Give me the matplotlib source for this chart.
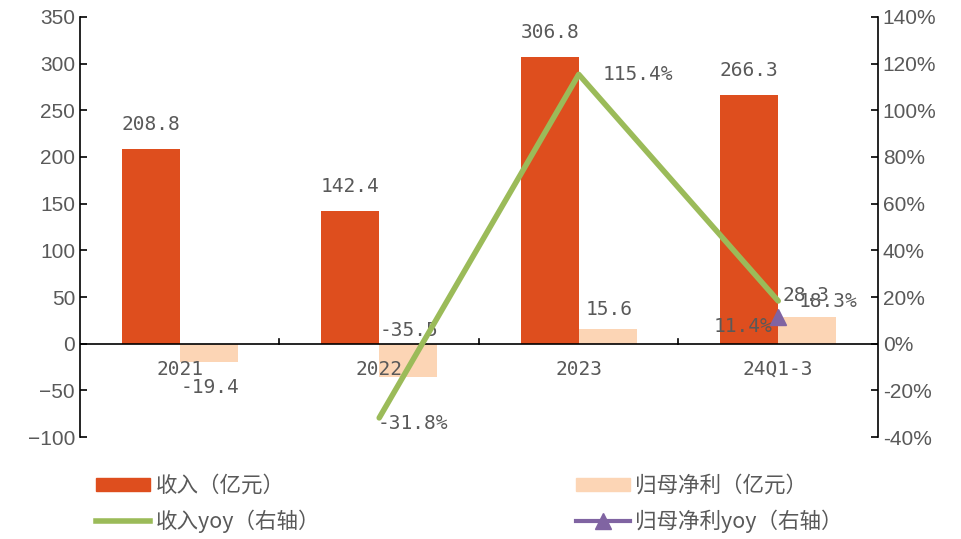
import numpy as np
import matplotlib as mpl
mpl.use('Agg')
import matplotlib.pyplot as plt
from matplotlib.lines import Line2D
from matplotlib.patches import Patch

categories = ['2021', '2022', '2023', '24Q1-3']
revenue = [208.8, 142.4, 306.8, 266.3]
net_profit = [-19.4, -35.5, 15.6, 28.3]
revenue_yoy = [None, -31.8, 115.4, 18.3]
profit_yoy = [None, None, None, 11.4]

c_rev = '#DE4E1E'
c_np = '#FCD5B5'
c_green = '#9BBB59'
c_purple = '#8064A2'
c_text = '#595959'

cjk = ['Noto Sans CJK SC', 'DejaVu Sans']
mono = ['DejaVu Sans Mono', 'Noto Sans CJK SC']

fig = plt.figure(figsize=(9.61, 5.39), dpi=100)
ax = fig.add_axes([0.0832, 0.1892, 0.8304, 0.7793])
ax2 = ax.twinx()

x = np.arange(len(categories))
w = 0.29
ax.bar(x - w / 2, revenue, w, color=c_rev, zorder=2)
ax.bar(x + w / 2, net_profit, w, color=c_np, zorder=2)

ax.set_xlim(-0.5, 3.5)
ax.set_ylim(-100, 350)
ax.set_yticks(np.arange(-100, 351, 50))
ax2.set_ylim(-40, 140)
ax2.set_yticks(np.arange(-40, 141, 20))
ax2.set_yticklabels([f'{v}%' for v in range(-40, 141, 20)])

for a in (ax, ax2):
    a.spines['top'].set_visible(False)
    a.spines['bottom'].set_visible(False)
    a.tick_params(axis='y', direction='in', length=5, labelsize=15,
                  labelcolor=c_text, width=1.2)
    for lab in a.get_yticklabels():
        lab.set_family('Liberation Sans')
ax.spines['left'].set_linewidth(1.2)
ax2.spines['right'].set_linewidth(1.2)
ax.spines['right'].set_visible(False)
ax2.spines['left'].set_visible(False)

# zero line as category axis
ax.axhline(0, color='black', lw=1.2, zorder=3)
ax.set_xticks([])
for b in np.arange(0.5, 3.5, 1):
    ax.plot([b, b], [0, 5], color='black', lw=1.2, zorder=3)
for i, c in enumerate(categories):
    ax.text(i, -17, c, ha='center', va='top', fontsize=14, color=c_text, family=mono)

# revenue yoy line
yx = [i for i, v in enumerate(revenue_yoy) if v is not None]
yv = [v for v in revenue_yoy if v is not None]
ax2.plot(yx, yv, color=c_green, lw=4, zorder=4, solid_capstyle='round')
px = [i for i, v in enumerate(profit_yoy) if v is not None]
pv = [v for v in profit_yoy if v is not None]
ax2.plot(px, pv, color=c_purple, lw=3, marker='^', markersize=11, zorder=5)

# labels
for i, v in enumerate(revenue):
    ax.text(i - w / 2, v + 16, f'{v}', ha='center', va='bottom', fontsize=14,
            color=c_text, family=mono)
np_off = [(0.15, -37, 'top'), (0.15, 4, 'bottom'), (0.15, 11, 'bottom'), (0.14, 13, 'bottom')]
for i, v in enumerate(net_profit):
    dx, dy, va = np_off[i]
    ax.text(i + dx, v + dy if v > 0 else dy, f'{v}', ha='center', va=va, fontsize=14,
            color=c_text, family=mono)
ax2.text(0.99, -34, '-31.8%', ha='left', va='center', fontsize=14, color=c_text, family=mono)
ax2.text(2.12, 115.4, '115.4%', ha='left', va='center', fontsize=14, color=c_text, family=mono)
ax2.text(3.1, 18.0, '18.3%', ha='left', va='center', fontsize=14, color=c_text, family=mono)
ax2.text(2.97, 7.5, '11.4%', ha='right', va='center', fontsize=14, color=c_text, family=mono)

handles = [
    Patch(color=c_rev, label='收入（亿元）'),
    Line2D([], [], color=c_green, lw=4, label='收入yoy（右轴）'),
    Patch(color=c_np, label='归母净利（亿元）'),
    Line2D([], [], color=c_purple, lw=3, marker='^', markersize=11, label='归母净利yoy（右轴）'),
]
leg = fig.legend(handles=handles, loc='lower left', bbox_to_anchor=(0.08, -0.024), ncol=2,
                 frameon=False, prop={'family': cjk, 'size': 15.5}, columnspacing=11.9,
                 handlelength=2.5, handleheight=0.55, handletextpad=0.25, labelspacing=0.57)
for t in leg.get_texts():
    t.set_color(c_text)

fig.savefig('out.png', dpi=100)
